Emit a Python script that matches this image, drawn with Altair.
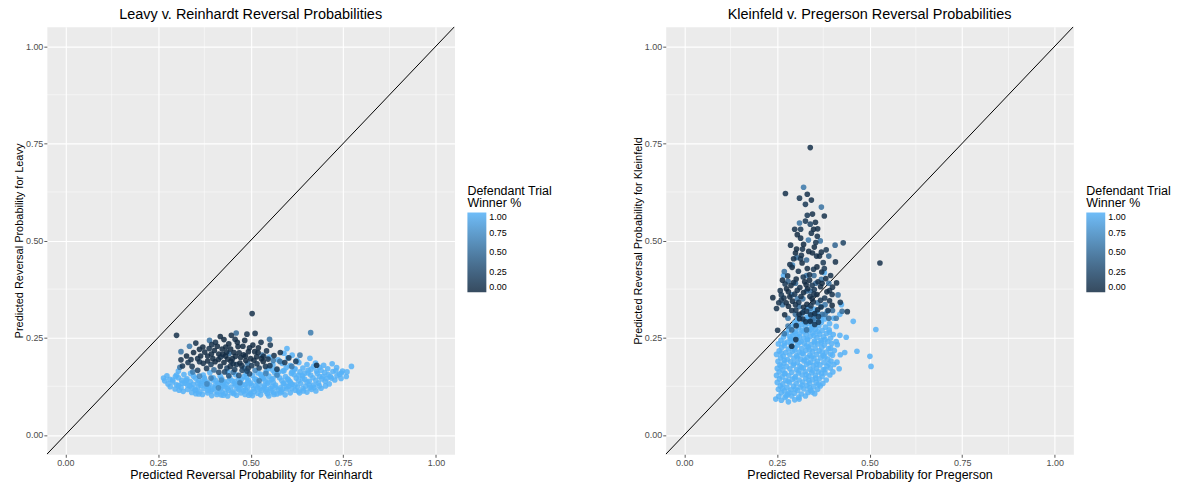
import altair as alt
import pandas as pd

# ---------------- Leavy v. Reinhardt ----------------
# (reinhardt_x, leavy_y) points with Defendant Trial Winner % = 1.00
lr_light = [
    (0.370, 0.104), (0.395, 0.101), (0.420, 0.103), (0.438, 0.100), (0.462, 0.102), (0.485, 0.104),
    (0.505, 0.101), (0.527, 0.103), (0.549, 0.100), (0.571, 0.105), (0.593, 0.103), (0.352, 0.106),
    (0.318, 0.112), (0.341, 0.109), (0.363, 0.111), (0.384, 0.108), (0.409, 0.110), (0.431, 0.107),
    (0.452, 0.111), (0.474, 0.108), (0.497, 0.110), (0.519, 0.107), (0.541, 0.112), (0.562, 0.109),
    (0.584, 0.111), (0.607, 0.108), (0.629, 0.112), (0.652, 0.110), (0.676, 0.113),
    (0.296, 0.118), (0.307, 0.115), (0.330, 0.117), (0.352, 0.114), (0.374, 0.119), (0.396, 0.116),
    (0.418, 0.118), (0.440, 0.115), (0.463, 0.119), (0.486, 0.116), (0.508, 0.118), (0.530, 0.115),
    (0.553, 0.119), (0.575, 0.116), (0.597, 0.118), (0.620, 0.115), (0.641, 0.119), (0.664, 0.117),
    (0.690, 0.120),
    (0.283, 0.124), (0.312, 0.122), (0.336, 0.126), (0.358, 0.123), (0.380, 0.125), (0.402, 0.121),
    (0.424, 0.126), (0.447, 0.123), (0.469, 0.125), (0.491, 0.122), (0.514, 0.126), (0.536, 0.123),
    (0.558, 0.125), (0.580, 0.121), (0.603, 0.126), (0.626, 0.123), (0.648, 0.125), (0.671, 0.122),
    (0.702, 0.126),
    (0.277, 0.131), (0.300, 0.129), (0.323, 0.133), (0.345, 0.130), (0.367, 0.132), (0.389, 0.128),
    (0.411, 0.133), (0.434, 0.130), (0.456, 0.132), (0.478, 0.129), (0.500, 0.133), (0.523, 0.130),
    (0.545, 0.132), (0.567, 0.128), (0.590, 0.133), (0.612, 0.130), (0.635, 0.132), (0.658, 0.129),
    (0.683, 0.133), (0.712, 0.131),
    (0.268, 0.139), (0.290, 0.136), (0.314, 0.140), (0.337, 0.137), (0.360, 0.139), (0.383, 0.135),
    (0.405, 0.140), (0.428, 0.137), (0.450, 0.139), (0.472, 0.136), (0.494, 0.140), (0.517, 0.137),
    (0.539, 0.139), (0.561, 0.135), (0.584, 0.140), (0.606, 0.137), (0.629, 0.139), (0.652, 0.136),
    (0.676, 0.140), (0.701, 0.138), (0.727, 0.141),
    (0.265, 0.146), (0.282, 0.143), (0.305, 0.147), (0.328, 0.144), (0.351, 0.146), (0.376, 0.142),
    (0.399, 0.147), (0.422, 0.144), (0.444, 0.146), (0.467, 0.143), (0.489, 0.147), (0.511, 0.144),
    (0.533, 0.146), (0.556, 0.142), (0.578, 0.147), (0.600, 0.144), (0.623, 0.146), (0.646, 0.143),
    (0.668, 0.147), (0.692, 0.144), (0.718, 0.146), (0.744, 0.145),
    (0.274, 0.152), (0.297, 0.150), (0.320, 0.155), (0.346, 0.151), (0.372, 0.154), (0.418, 0.151),
    (0.459, 0.155), (0.482, 0.150), (0.505, 0.153), (0.527, 0.156), (0.549, 0.151), (0.572, 0.154),
    (0.594, 0.150), (0.617, 0.155), (0.640, 0.152), (0.662, 0.154), (0.686, 0.150), (0.709, 0.155),
    (0.733, 0.152), (0.758, 0.150),
    (0.305, 0.164), (0.338, 0.158), (0.390, 0.160), (0.438, 0.162), (0.520, 0.159), (0.542, 0.163),
    (0.565, 0.160), (0.587, 0.164), (0.610, 0.158), (0.633, 0.162), (0.655, 0.159), (0.678, 0.164),
    (0.700, 0.160), (0.722, 0.163), (0.745, 0.159),
    (0.548, 0.171), (0.570, 0.167), (0.596, 0.173), (0.618, 0.168), (0.641, 0.172), (0.663, 0.169),
    (0.686, 0.174), (0.708, 0.170), (0.732, 0.173), (0.772, 0.176), (0.748, 0.164),
    (0.560, 0.180), (0.585, 0.184), (0.607, 0.178), (0.630, 0.186), (0.652, 0.181), (0.675, 0.185),
    (0.697, 0.179), (0.720, 0.183), (0.574, 0.193), (0.600, 0.198), (0.625, 0.192), (0.660, 0.197),
    (0.598, 0.222), (0.612, 0.205), (0.550, 0.200), (0.590, 0.210),
    (0.342, 0.121), (0.366, 0.127), (0.393, 0.113), (0.415, 0.131), (0.437, 0.119), (0.457, 0.137),
    (0.481, 0.113), (0.503, 0.128), (0.525, 0.118), (0.548, 0.136), (0.566, 0.122), (0.588, 0.131),
    (0.611, 0.119), (0.455, 0.106), (0.409, 0.104), (0.500, 0.106), (0.545, 0.106), (0.357, 0.134),
    (0.398, 0.141), (0.440, 0.138), (0.475, 0.143), (0.515, 0.142), (0.560, 0.145), (0.602, 0.141),
    (0.640, 0.145), (0.326, 0.140), (0.305, 0.127), (0.375, 0.147), (0.423, 0.111), (0.468, 0.116),
    (0.492, 0.135), (0.537, 0.127), (0.580, 0.108), (0.620, 0.128), (0.658, 0.138), (0.695, 0.150),
    (0.630, 0.153), (0.575, 0.161), (0.529, 0.151), (0.488, 0.158), (0.350, 0.116), (0.387, 0.122),
    (0.430, 0.124), (0.460, 0.128), (0.510, 0.112), (0.555, 0.113), (0.598, 0.124), (0.642, 0.113),
    (0.670, 0.128), (0.715, 0.150), (0.730, 0.165), (0.680, 0.158), (0.612, 0.162), (0.655, 0.166),
    (0.330, 0.128), (0.360, 0.105), (0.385, 0.114), (0.404, 0.127), (0.426, 0.102), (0.449, 0.108),
    (0.472, 0.121), (0.495, 0.102), (0.518, 0.121), (0.542, 0.118), (0.563, 0.104), (0.586, 0.117),
    (0.608, 0.133), (0.632, 0.108), (0.660, 0.122), (0.685, 0.126), (0.705, 0.145), (0.740, 0.156),
    (0.760, 0.162), (0.620, 0.170), (0.645, 0.158), (0.670, 0.176), (0.690, 0.166), (0.590, 0.165),
    (0.560, 0.166), (0.535, 0.145), (0.485, 0.129), (0.425, 0.135), (0.370, 0.138), (0.315, 0.133),
    (0.290, 0.141), (0.300, 0.154),
]
# (reinhardt_x, leavy_y, winner_pct)
lr_mid = [
    (0.335, 0.228, 0.60), (0.662, 0.263, 0.62), (0.362, 0.151, 0.70), (0.393, 0.146, 0.65),
    (0.421, 0.141, 0.72), (0.453, 0.161, 0.55), (0.483, 0.172, 0.60), (0.512, 0.166, 0.70),
    (0.541, 0.158, 0.65), (0.401, 0.167, 0.50), (0.344, 0.162, 0.62), (0.309, 0.174, 0.55),
    (0.442, 0.209, 0.50), (0.492, 0.184, 0.58), (0.531, 0.205, 0.55), (0.561, 0.191, 0.62),
    (0.579, 0.189, 0.55), (0.382, 0.131, 0.70), (0.471, 0.134, 0.68), (0.413, 0.121, 0.72),
    (0.523, 0.139, 0.66), (0.571, 0.154, 0.70), (0.611, 0.176, 0.60), (0.633, 0.205, 0.60),
    (0.389, 0.243, 0.55), (0.461, 0.262, 0.50), (0.551, 0.246, 0.52), (0.312, 0.214, 0.55),
]
lr_dark = [
    (0.504, 0.312, 0.05), (0.300, 0.256, 0.05), (0.418, 0.253, 0.00), (0.448, 0.256, 0.05),
    (0.490, 0.259, 0.05), (0.512, 0.261, 0.05), (0.528, 0.238, 0.05), (0.327, 0.203, 0.00),
    (0.312, 0.193, 0.05), (0.346, 0.212, 0.00), (0.362, 0.188, 0.10), (0.371, 0.226, 0.00),
    (0.384, 0.203, 0.00), (0.393, 0.181, 0.15), (0.402, 0.217, 0.00), (0.405, 0.238, 0.05),
    (0.413, 0.194, 0.00), (0.423, 0.221, 0.00), (0.432, 0.203, 0.00), (0.436, 0.172, 0.20),
    (0.441, 0.234, 0.00), (0.447, 0.189, 0.00), (0.455, 0.212, 0.00), (0.462, 0.181, 0.10),
    (0.466, 0.227, 0.00), (0.473, 0.199, 0.00), (0.477, 0.166, 0.20), (0.484, 0.243, 0.00),
    (0.487, 0.191, 0.00), (0.494, 0.214, 0.00), (0.503, 0.178, 0.10), (0.506, 0.231, 0.00),
    (0.516, 0.201, 0.00), (0.523, 0.172, 0.20), (0.534, 0.189, 0.00), (0.543, 0.216, 0.05),
    (0.552, 0.178, 0.10), (0.563, 0.204, 0.05), (0.580, 0.212, 0.05), (0.603, 0.198, 0.10),
    (0.622, 0.189, 0.15), (0.678, 0.179, 0.00), (0.342, 0.176, 0.10), (0.357, 0.166, 0.20),
    (0.381, 0.171, 0.10), (0.414, 0.161, 0.25), (0.441, 0.152, 0.30), (0.468, 0.153, 0.30),
    (0.497, 0.157, 0.25), (0.394, 0.208, 0.00), (0.425, 0.207, 0.00), (0.451, 0.196, 0.00),
    (0.481, 0.206, 0.00), (0.433, 0.226, 0.00), (0.458, 0.246, 0.05), (0.404, 0.188, 0.00),
    (0.372, 0.184, 0.05), (0.331, 0.186, 0.10), (0.352, 0.236, 0.05), (0.521, 0.224, 0.00),
    (0.553, 0.231, 0.10), (0.571, 0.169, 0.15), (0.592, 0.186, 0.10), (0.316, 0.177, 0.10),
    (0.428, 0.186, 0.00), (0.445, 0.176, 0.05), (0.459, 0.202, 0.00), (0.471, 0.185, 0.00),
    (0.418, 0.176, 0.05), (0.435, 0.213, 0.00), (0.509, 0.192, 0.00), (0.493, 0.171, 0.10),
    (0.388, 0.222, 0.05), (0.365, 0.203, 0.00), (0.535, 0.202, 0.05),
    (0.398, 0.196, 0.00), (0.410, 0.228, 0.00), (0.419, 0.200, 0.05), (0.428, 0.245, 0.00),
    (0.438, 0.195, 0.00), (0.446, 0.221, 0.00), (0.453, 0.183, 0.05), (0.464, 0.238, 0.00),
    (0.469, 0.211, 0.00), (0.476, 0.178, 0.05), (0.479, 0.228, 0.00), (0.486, 0.203, 0.00),
    (0.497, 0.224, 0.00), (0.500, 0.196, 0.00), (0.511, 0.214, 0.00), (0.517, 0.183, 0.05),
    (0.529, 0.196, 0.00), (0.540, 0.176, 0.10), (0.376, 0.213, 0.00), (0.357, 0.196, 0.05),
    (0.339, 0.194, 0.05), (0.384, 0.190, 0.00), (0.414, 0.208, 0.00), (0.457, 0.168, 0.15),
    (0.430, 0.162, 0.20), (0.490, 0.164, 0.20), (0.520, 0.212, 0.00), (0.547, 0.195, 0.05),
    (0.395, 0.232, 0.05), (0.362, 0.220, 0.00),
]

# ---------------- Kleinfeld v. Pregerson ----------------
# (pregerson_x, kleinfeld_y) points with winner % = 1.00
kp_light = [
    (0.247, 0.092), (0.281, 0.085), (0.262, 0.089), (0.298, 0.090),
    (0.255, 0.099), (0.272, 0.096), (0.290, 0.100), (0.309, 0.097), (0.327, 0.100),
    (0.262, 0.108), (0.279, 0.104), (0.297, 0.107), (0.316, 0.105), (0.334, 0.109), (0.352, 0.106),
    (0.254, 0.117), (0.270, 0.113), (0.288, 0.116), (0.306, 0.114), (0.323, 0.118), (0.341, 0.115),
    (0.360, 0.117),
    (0.259, 0.126), (0.277, 0.122), (0.295, 0.125), (0.313, 0.123), (0.331, 0.127), (0.349, 0.124),
    (0.367, 0.126),
    (0.251, 0.135), (0.266, 0.131), (0.284, 0.134), (0.302, 0.132), (0.320, 0.136), (0.338, 0.133),
    (0.356, 0.135), (0.374, 0.132),
    (0.257, 0.144), (0.274, 0.140), (0.292, 0.143), (0.310, 0.141), (0.328, 0.145), (0.346, 0.142),
    (0.364, 0.144), (0.383, 0.141),
    (0.249, 0.153), (0.264, 0.149), (0.282, 0.152), (0.300, 0.150), (0.318, 0.154), (0.336, 0.151),
    (0.354, 0.153), (0.372, 0.150), (0.393, 0.154),
    (0.256, 0.162), (0.272, 0.158), (0.290, 0.161), (0.308, 0.159), (0.326, 0.163), (0.344, 0.160),
    (0.362, 0.162), (0.380, 0.159), (0.401, 0.162),
    (0.251, 0.171), (0.266, 0.167), (0.285, 0.170), (0.303, 0.168), (0.321, 0.172), (0.339, 0.169),
    (0.357, 0.171), (0.375, 0.168), (0.394, 0.172), (0.418, 0.170),
    (0.258, 0.180), (0.276, 0.176), (0.294, 0.179), (0.312, 0.177), (0.330, 0.181), (0.348, 0.178),
    (0.366, 0.180), (0.385, 0.177), (0.404, 0.181), (0.504, 0.176),
    (0.253, 0.189), (0.269, 0.185), (0.287, 0.188), (0.305, 0.186), (0.323, 0.190), (0.341, 0.187),
    (0.359, 0.189), (0.377, 0.186), (0.396, 0.190), (0.412, 0.187),
    (0.260, 0.198), (0.278, 0.194), (0.296, 0.197), (0.314, 0.195), (0.332, 0.199), (0.350, 0.196),
    (0.368, 0.198), (0.387, 0.195), (0.501, 0.202),
    (0.249, 0.207), (0.267, 0.203), (0.285, 0.206), (0.303, 0.204), (0.321, 0.208), (0.339, 0.205),
    (0.357, 0.207), (0.375, 0.204), (0.395, 0.208), (0.421, 0.206),
    (0.256, 0.216), (0.274, 0.212), (0.292, 0.215), (0.310, 0.213), (0.328, 0.217), (0.346, 0.214),
    (0.364, 0.216), (0.383, 0.213), (0.405, 0.217), (0.466, 0.215), (0.433, 0.212),
    (0.263, 0.225), (0.281, 0.221), (0.299, 0.224), (0.317, 0.222), (0.335, 0.226), (0.353, 0.223),
    (0.371, 0.225), (0.390, 0.222),
    (0.254, 0.234), (0.270, 0.230), (0.288, 0.233), (0.306, 0.231), (0.324, 0.235), (0.342, 0.232),
    (0.360, 0.234), (0.378, 0.231), (0.398, 0.235), (0.413, 0.232),
    (0.261, 0.243), (0.279, 0.239), (0.297, 0.242), (0.315, 0.240), (0.333, 0.244), (0.351, 0.241),
    (0.369, 0.243), (0.387, 0.240),
    (0.268, 0.252), (0.286, 0.248), (0.304, 0.251), (0.322, 0.249), (0.340, 0.253), (0.358, 0.250),
    (0.376, 0.252), (0.395, 0.249), (0.437, 0.251), (0.420, 0.256),
    (0.275, 0.261), (0.293, 0.257), (0.311, 0.260), (0.329, 0.258), (0.347, 0.262), (0.365, 0.259),
    (0.384, 0.261), (0.402, 0.258),
    (0.282, 0.270), (0.300, 0.266), (0.318, 0.269), (0.336, 0.267), (0.354, 0.271), (0.372, 0.268),
    (0.391, 0.270), (0.517, 0.271),
    (0.291, 0.279), (0.309, 0.275), (0.327, 0.278), (0.345, 0.276), (0.363, 0.280), (0.381, 0.277),
    (0.410, 0.279),
    (0.298, 0.288), (0.316, 0.284), (0.334, 0.287), (0.352, 0.285), (0.370, 0.289), (0.392, 0.286),
    (0.456, 0.292),
    (0.306, 0.297), (0.324, 0.293), (0.342, 0.296), (0.360, 0.294), (0.379, 0.298), (0.403, 0.300),
    (0.313, 0.307), (0.331, 0.303), (0.349, 0.306), (0.368, 0.304), (0.420, 0.310),
    (0.322, 0.317), (0.340, 0.313), (0.358, 0.316), (0.386, 0.318),
    (0.333, 0.327), (0.352, 0.323), (0.424, 0.335), (0.370, 0.330),
    (0.268, 0.410), (0.378, 0.417),
    (0.283, 0.108), (0.300, 0.118), (0.265, 0.120), (0.318, 0.128), (0.338, 0.121), (0.280, 0.138),
    (0.298, 0.146), (0.336, 0.140), (0.355, 0.146), (0.270, 0.157), (0.310, 0.165), (0.329, 0.155),
    (0.347, 0.165), (0.370, 0.158), (0.262, 0.176), (0.296, 0.183), (0.316, 0.174), (0.336, 0.185),
    (0.357, 0.182), (0.390, 0.183), (0.270, 0.192), (0.305, 0.200), (0.325, 0.193), (0.344, 0.201),
    (0.379, 0.200), (0.262, 0.211), (0.298, 0.218), (0.318, 0.210), (0.338, 0.219), (0.372, 0.212),
    (0.395, 0.223), (0.270, 0.236), (0.290, 0.228), (0.310, 0.238), (0.330, 0.229), (0.352, 0.237),
    (0.370, 0.238), (0.290, 0.246), (0.310, 0.253), (0.332, 0.246), (0.350, 0.256), (0.380, 0.245),
    (0.298, 0.262), (0.322, 0.265), (0.340, 0.272), (0.360, 0.266), (0.305, 0.283), (0.325, 0.290),
    (0.345, 0.283), (0.370, 0.295), (0.335, 0.300), (0.355, 0.310), (0.285, 0.253), (0.392, 0.264),
    (0.410, 0.240), (0.400, 0.205), (0.380, 0.168), (0.362, 0.130), (0.345, 0.110), (0.310, 0.092),
    (0.275, 0.100),
]
# (pregerson_x, kleinfeld_y, winner_pct)
kp_mid = [
    (0.322, 0.637, 0.60), (0.370, 0.586, 0.55), (0.311, 0.545, 0.55), (0.335, 0.501, 0.60),
    (0.367, 0.499, 0.55), (0.407, 0.488, 0.45), (0.303, 0.456, 0.50), (0.330, 0.450, 0.45),
    (0.390, 0.460, 0.40), (0.270, 0.420, 0.55), (0.292, 0.437, 0.75), (0.300, 0.390, 0.50),
    (0.330, 0.370, 0.55), (0.350, 0.410, 0.50), (0.370, 0.400, 0.60), (0.390, 0.390, 0.55),
    (0.290, 0.360, 0.60), (0.320, 0.350, 0.55), (0.340, 0.370, 0.50), (0.360, 0.340, 0.60),
    (0.380, 0.310, 0.55), (0.400, 0.320, 0.50), (0.280, 0.300, 0.60), (0.310, 0.330, 0.55),
    (0.340, 0.325, 0.60), (0.290, 0.270, 0.50), (0.330, 0.270, 0.55), (0.350, 0.300, 0.65),
    (0.270, 0.260, 0.60), (0.410, 0.300, 0.60), (0.415, 0.360, 0.55), (0.380, 0.335, 0.60),
    (0.426, 0.318, 0.50),
    (0.280, 0.280, 0.60), (0.300, 0.310, 0.50), (0.265, 0.335, 0.55), (0.345, 0.295, 0.60),
    (0.372, 0.310, 0.55), (0.390, 0.300, 0.50), (0.280, 0.395, 0.45), (0.305, 0.350, 0.60),
    (0.355, 0.390, 0.45), (0.330, 0.410, 0.60),
]
kp_dark = [
    (0.340, 0.739, 0.05), (0.273, 0.621, 0.05), (0.311, 0.609, 0.10), (0.332, 0.619, 0.05),
    (0.343, 0.604, 0.05), (0.327, 0.593, 0.10), (0.346, 0.568, 0.05), (0.378, 0.563, 0.05),
    (0.327, 0.550, 0.10), (0.354, 0.547, 0.05), (0.340, 0.542, 0.20), (0.298, 0.529, 0.05),
    (0.314, 0.529, 0.10), (0.349, 0.529, 0.00), (0.343, 0.519, 0.05), (0.314, 0.506, 0.05),
    (0.359, 0.511, 0.05), (0.429, 0.494, 0.20), (0.287, 0.488, 0.05), (0.303, 0.478, 0.00),
    (0.319, 0.478, 0.05), (0.351, 0.483, 0.00), (0.383, 0.476, 0.10), (0.346, 0.468, 0.00),
    (0.357, 0.460, 0.05), (0.295, 0.453, 0.05), (0.314, 0.453, 0.10), (0.365, 0.460, 0.00),
    (0.408, 0.445, 0.05), (0.375, 0.443, 0.10), (0.528, 0.442, 0.05), (0.239, 0.353, 0.00),
    (0.255, 0.340, 0.05), (0.249, 0.325, 0.05), (0.262, 0.347, 0.10), (0.281, 0.331, 0.00),
    (0.399, 0.333, 0.00), (0.440, 0.317, 0.10), (0.252, 0.269, 0.05), (0.290, 0.228, 0.00),
    (0.291, 0.431, 0.00), (0.308, 0.421, 0.05), (0.332, 0.428, 0.00), (0.349, 0.426, 0.10),
    (0.371, 0.419, 0.00), (0.279, 0.409, 0.05), (0.302, 0.401, 0.00), (0.321, 0.406, 0.10),
    (0.338, 0.398, 0.00), (0.361, 0.394, 0.05), (0.382, 0.402, 0.00), (0.272, 0.388, 0.10),
    (0.288, 0.384, 0.00), (0.312, 0.379, 0.05), (0.329, 0.386, 0.00), (0.351, 0.374, 0.10),
    (0.368, 0.381, 0.00), (0.392, 0.371, 0.05), (0.281, 0.368, 0.00), (0.298, 0.362, 0.10),
    (0.322, 0.366, 0.00), (0.339, 0.356, 0.05), (0.358, 0.361, 0.00), (0.379, 0.352, 0.10),
    (0.269, 0.352, 0.05), (0.292, 0.344, 0.00), (0.309, 0.341, 0.10), (0.331, 0.336, 0.00),
    (0.348, 0.342, 0.05), (0.369, 0.329, 0.00), (0.301, 0.321, 0.10), (0.319, 0.314, 0.00),
    (0.341, 0.309, 0.05), (0.362, 0.304, 0.10), (0.311, 0.299, 0.00), (0.328, 0.291, 0.05),
    (0.352, 0.284, 0.10), (0.302, 0.281, 0.05), (0.411, 0.391, 0.00), (0.399, 0.361, 0.05),
    (0.421, 0.341, 0.10), (0.259, 0.371, 0.05), (0.271, 0.309, 0.00), (0.301, 0.245, 0.05),
    (0.285, 0.438, 0.05), (0.318, 0.442, 0.00), (0.338, 0.412, 0.05), (0.358, 0.432, 0.00),
    (0.378, 0.428, 0.10), (0.395, 0.410, 0.05), (0.265, 0.398, 0.00), (0.295, 0.392, 0.05),
    (0.325, 0.394, 0.00), (0.345, 0.385, 0.10), (0.372, 0.390, 0.00), (0.400, 0.380, 0.05),
    (0.276, 0.376, 0.00), (0.305, 0.372, 0.05), (0.333, 0.376, 0.00), (0.350, 0.362, 0.05),
    (0.385, 0.368, 0.00), (0.262, 0.360, 0.10), (0.285, 0.355, 0.00), (0.315, 0.356, 0.05),
    (0.345, 0.350, 0.00), (0.368, 0.346, 0.10), (0.392, 0.345, 0.05), (0.275, 0.340, 0.00),
    (0.300, 0.335, 0.05), (0.322, 0.328, 0.00), (0.342, 0.332, 0.10), (0.360, 0.322, 0.00),
    (0.290, 0.320, 0.05), (0.310, 0.310, 0.00), (0.330, 0.318, 0.05), (0.352, 0.312, 0.00),
    (0.388, 0.320, 0.10), (0.320, 0.298, 0.05), (0.340, 0.292, 0.00), (0.362, 0.290, 0.10),
    (0.316, 0.462, 0.05), (0.336, 0.472, 0.00), (0.370, 0.470, 0.05), (0.300, 0.468, 0.00),
    (0.355, 0.495, 0.05), (0.322, 0.490, 0.00), (0.332, 0.565, 0.10), (0.360, 0.530, 0.05),
    (0.305, 0.515, 0.00),
]

major_ticks = [0, 0.25, 0.5, 0.75, 1]
minor_ticks = [0.125, 0.375, 0.625, 0.875]
identity_line = [-0.1, 1.1]

FONT = "Liberation Sans"
W, H = 409, 429


def frame(light, mid, dark):
    rows = [{"x": xv, "y": yv, "c": 1.0} for xv, yv in light]
    rows += [{"x": xv, "y": yv, "c": cv} for xv, yv, cv in mid + dark]
    return pd.DataFrame(rows)


def panel(df, title, xtitle, ytitle):
    dom = alt.Scale(domain=[-0.05, 1.05], nice=False, zero=False)

    def ax(t, tsize):
        return alt.Axis(
            title=t, values=major_ticks, format=".2f", grid=True,
            gridColor="white", gridWidth=1.1, domain=False,
            tickColor="#333333", tickSize=3, tickWidth=0.8,
            labelColor="#4D4D4D", labelFont=FONT, labelFontSize=9, labelPadding=1,
            titleFont=FONT, titleFontSize=tsize, titleFontWeight="normal",
            titleColor="black", titlePadding=1,
        )

    xax, yax = ax(xtitle, 12.5), ax(ytitle, 11)
    minor = pd.DataFrame({"v": minor_ticks})
    vminor = alt.Chart(minor).mark_rule(color="white", strokeWidth=0.5).encode(
        x=alt.X("v:Q", scale=dom, axis=xax))
    hminor = alt.Chart(minor).mark_rule(color="white", strokeWidth=0.5).encode(
        y=alt.Y("v:Q", scale=dom, axis=yax))
    diag = alt.Chart(pd.DataFrame({"x": identity_line, "y": identity_line})).mark_line(
        color="black", strokeWidth=1, clip=True).encode(
        x=alt.X("x:Q", scale=dom, axis=xax), y=alt.Y("y:Q", scale=dom, axis=yax))
    pts = alt.Chart(df).mark_circle(size=32, opacity=0.85).encode(
        x=alt.X("x:Q", scale=dom, axis=xax),
        y=alt.Y("y:Q", scale=dom, axis=yax),
        color=alt.Color(
            "c:Q",
            scale=alt.Scale(domain=[0, 1], range=["#132B43", "#56B1F7"], interpolate="lab"),
            legend=alt.Legend(
                title=["Defendant Trial", "Winner %"], values=major_ticks, format=".2f",
                orient="none", legendX=W + 13, legendY=159,
                gradientLength=80, gradientThickness=19, gradientStrokeWidth=0,
                titleFont=FONT, titleFontSize=12.5, titleFontWeight="normal", titleColor="black",
                titleLineHeight=12, titlePadding=3,
                labelFont=FONT, labelFontSize=9, labelColor="black", labelOffset=3,
            ),
        ),
    )
    return alt.layer(vminor, hminor, diag, pts).properties(
        width=W, height=H,
        title=alt.TitleParams(title, font=FONT, fontSize=14.5, fontWeight="normal",
                              anchor="middle", offset=4, color="black"),
    )


left = panel(frame(lr_light, lr_mid, lr_dark), "Leavy v. Reinhardt Reversal Probabilities",
             "Predicted Reversal Probability for Reinhardt",
             "Predicted Reversal Probability for Leavy")
right = panel(frame(kp_light, kp_mid, kp_dark), "Kleinfeld v. Pregerson Reversal Probabilities",
              "Predicted Reversal Probability for Pregerson",
              "Predicted Reversal Probability for Kleinfeld")

chart = alt.hconcat(left, right, spacing=78).resolve_scale(color="independent").properties(
    padding={"left": 12, "top": 5, "right": 5, "bottom": 5},
    background="white",
).configure_view(fill="#EBEBEB", stroke="transparent")

chart.save("out.html", embed_options={"renderer": "svg", "actions": False})
